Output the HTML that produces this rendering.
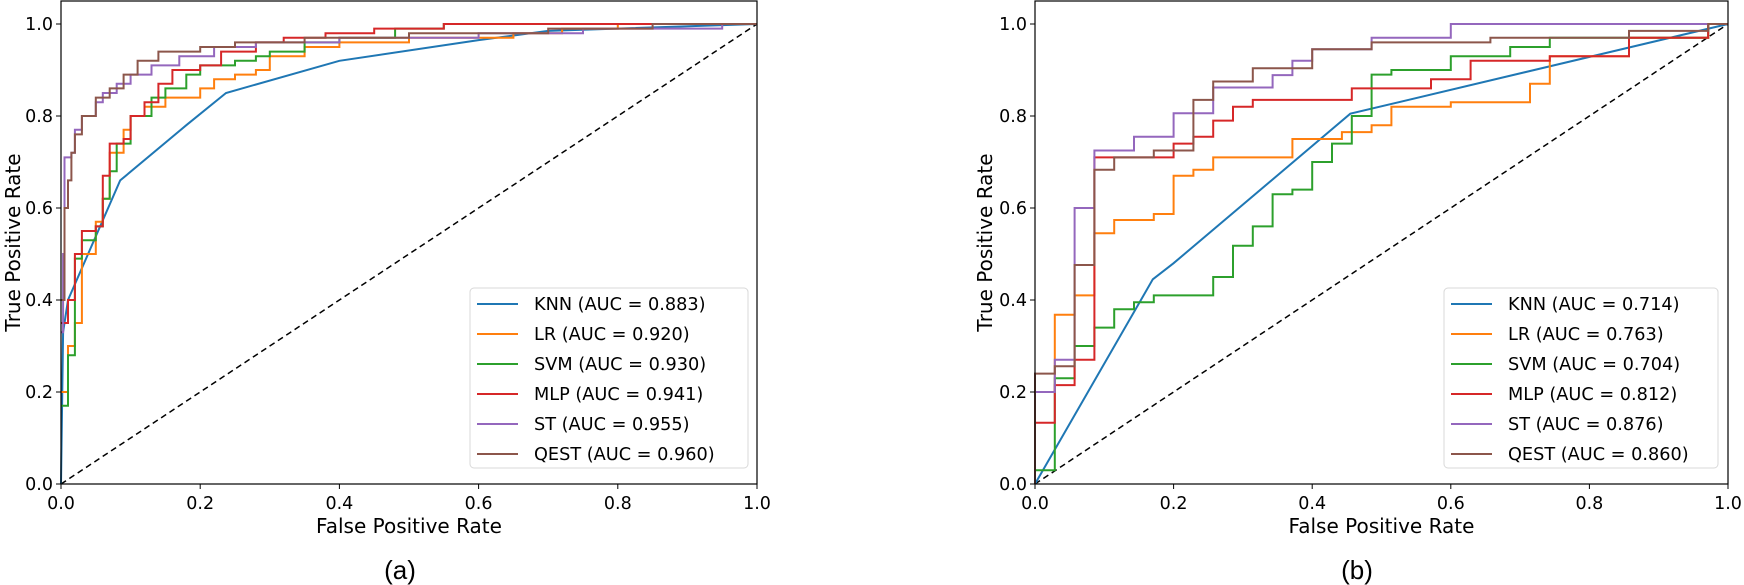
<!DOCTYPE html>
<html><head><meta charset="utf-8">
<style>
html,body{margin:0;padding:0;background:#fff;}
svg{display:block;font-family:"DejaVu Sans","Liberation Sans",sans-serif;}
</style></head>
<body>
<svg id="s" width="1744" height="585" xmlns="http://www.w3.org/2000/svg"></svg>
<script>
const S=document.getElementById('s');
const Y1=24,Y0=484,H=Y0-Y1;
const C=['#1f77b4','#ff7f0e','#2ca02c','#d62728','#9467bd','#8c564b'];
let out='';
function poly(pts,col,X,Y,step){
  let p=[];
  if(step){
    let prev=null;
    pts.forEach(q=>{ if(prev){p.push([q[0],prev[1]]);} p.push(q); prev=q;});
  } else p=pts;
  out+=`<polyline fill="none" stroke="${col}" stroke-width="2" stroke-linejoin="miter" points="${p.map(q=>X(q[0]).toFixed(1)+','+Y(q[1]).toFixed(1)).join(' ')}"/>`;
}
function frame(x0,x1,yl,lab,labx,legx,legw,aucs){
  const W=x1-x0, X=f=>x0+W*f, Y=t=>Y0-H*t;
  const top=Y(1.05);
  out+=`<rect x="${x0}" y="${top}" width="${W}" height="${Y0-top}" fill="none" stroke="#000" stroke-width="1.2"/>`;
  for(let i=0;i<=5;i++){
    const v=(i*0.2).toFixed(1);
    out+=`<line x1="${X(i*0.2)}" y1="${Y0}" x2="${X(i*0.2)}" y2="${Y0+5}" stroke="#000"/>`;
    out+=`<text x="${X(i*0.2)}" y="${Y0+25}" font-size="17.5" text-anchor="middle">${v}</text>`;
    out+=`<line x1="${x0-5}" y1="${Y(i*0.2)}" x2="${x0}" y2="${Y(i*0.2)}" stroke="#000"/>`;
    out+=`<text x="${x0-8}" y="${Y(i*0.2)+6}" font-size="17.5" text-anchor="end">${v}</text>`;
  }
  out+=`<text x="${x0+W/2}" y="${Y0+49}" font-size="20" text-anchor="middle">False Positive Rate</text>`;
  out+=`<text transform="translate(${yl},${(Y0+top)/2}) rotate(-90)" font-size="20" text-anchor="middle">True Positive Rate</text>`;
  out+=`<text x="${labx}" y="579" font-size="26" text-anchor="middle" font-family="Liberation Sans, sans-serif">${lab}</text>`;
  const lx=legx, ly=288;
  out+=`<rect x="${lx}" y="${ly}" width="${legw}" height="180" rx="4" fill="#fff" fill-opacity="0.85" stroke="#d8d8d8"/>`;
  const names=['KNN','LR','SVM','MLP','ST','QEST'];
  names.forEach((n,i)=>{
    const yy=ly+16+i*30;
    out+=`<line x1="${lx+7}" y1="${yy}" x2="${lx+48}" y2="${yy}" stroke="${C[i]}" stroke-width="2"/>`;
    out+=`<text x="${lx+64}" y="${yy+6}" font-size="17.7">${n} (AUC = ${aucs[i]})</text>`;
  });
}
// ---- Plot a
{
  const x0=61,x1=757,W=x1-x0,X=f=>x0+W*f,Y=t=>Y0-H*t;
  out+=`<line x1="${X(0)}" y1="${Y(0)}" x2="${X(1)}" y2="${Y(1)}" stroke="#000" stroke-width="1.5" stroke-dasharray="6,4"/>`;
  const D=[
   [[0,0],[0.003,0.33],[0.01,0.4],[0.085,0.66],[0.18,0.78],[0.237,0.85],[0.4,0.92],[0.6,0.965],[0.7,0.985],[1,1]],
   [[0,0.2],[0.01,0.3],[0.02,0.35],[0.03,0.5],[0.05,0.57],[0.06,0.62],[0.07,0.72],[0.09,0.77],[0.1,0.8],[0.12,0.82],[0.15,0.84],[0.2,0.86],[0.22,0.88],[0.25,0.89],[0.28,0.9],[0.3,0.93],[0.35,0.95],[0.4,0.96],[0.5,0.97],[0.65,0.98],[0.72,0.99],[0.8,1.0],[1,1]],
   [[0,0.17],[0.01,0.28],[0.02,0.49],[0.03,0.53],[0.05,0.56],[0.06,0.62],[0.07,0.68],[0.08,0.74],[0.1,0.8],[0.13,0.84],[0.15,0.86],[0.18,0.89],[0.2,0.91],[0.25,0.92],[0.28,0.93],[0.3,0.94],[0.35,0.96],[0.4,0.97],[0.48,0.99],[0.55,1.0],[1,1]],
   [[0,0.35],[0.01,0.4],[0.02,0.5],[0.03,0.55],[0.05,0.56],[0.06,0.67],[0.07,0.74],[0.09,0.75],[0.1,0.8],[0.12,0.83],[0.14,0.87],[0.16,0.9],[0.2,0.91],[0.23,0.94],[0.28,0.96],[0.32,0.97],[0.38,0.98],[0.45,0.99],[0.55,1.0],[1,1]],
   [[0,0.33],[0.003,0.5],[0.005,0.71],[0.015,0.72],[0.02,0.77],[0.03,0.8],[0.05,0.83],[0.06,0.85],[0.08,0.87],[0.1,0.89],[0.13,0.91],[0.17,0.93],[0.22,0.95],[0.28,0.96],[0.4,0.97],[0.6,0.98],[0.75,0.99],[0.95,1.0],[1,1]],
   [[0,0.4],[0.005,0.6],[0.01,0.66],[0.015,0.72],[0.02,0.76],[0.03,0.8],[0.05,0.84],[0.07,0.86],[0.09,0.89],[0.11,0.92],[0.14,0.94],[0.2,0.95],[0.25,0.96],[0.35,0.97],[0.5,0.98],[0.7,0.99],[0.85,1.0],[1,1]]
  ];
  D.forEach((d,i)=>poly(d,C[i],X,Y,i>0));
  frame(x0,x1,20,'(a)',400,470,278,['0.883','0.920','0.930','0.941','0.955','0.960']);
}
// ---- Plot b
{
  const x0=1035,x1=1728,W=x1-x0,X=f=>x0+W*f,Y=t=>Y0-H*t;
  out+=`<line x1="${X(0)}" y1="${Y(0)}" x2="${X(1)}" y2="${Y(1)}" stroke="#000" stroke-width="1.5" stroke-dasharray="6,4"/>`;
  const s=1/35;
  const st=a=>a.map(q=>[q[0]*s,q[1]]);
  const KNN=[[0,0],[0.17,0.445],[0.2,0.48],[0.455,0.805],[1,1]];
  const LR=st([[0,0],[0,0.2],[1,0.368],[2,0.41],[3,0.545],[4,0.574],[6,0.587],[7,0.67],[8,0.683],[9,0.71],[13,0.75],[15.5,0.765],[17,0.78],[18,0.82],[21,0.83],[25,0.87],[26,0.93],[30,0.97],[34,1.0],[35,1]]);
  const SVM=st([[0,0],[0,0.03],[1,0.23],[2,0.3],[3,0.34],[4,0.38],[5,0.395],[6,0.41],[9,0.45],[10,0.518],[11,0.56],[12,0.63],[13,0.64],[14,0.7],[15,0.74],[16,0.8],[17,0.89],[18,0.9],[21,0.93],[24,0.95],[26,0.97],[34,1.0],[35,1]]);
  const MLP=st([[0,0],[0,0.133],[1,0.215],[2,0.27],[3,0.71],[7,0.74],[8,0.755],[9,0.79],[10,0.82],[11,0.835],[16,0.86],[20,0.88],[22,0.92],[26,0.93],[30,0.97],[34,1.0],[35,1]]);
  const ST=st([[0,0],[0,0.2],[1,0.27],[2,0.6],[3,0.725],[5,0.755],[7,0.806],[9,0.862],[12,0.889],[13,0.92],[14,0.945],[17,0.97],[21,1.0],[35,1]]);
  const QE=st([[0,0],[0,0.24],[1,0.256],[2,0.476],[3,0.683],[4,0.71],[6,0.725],[8,0.835],[9,0.875],[11,0.904],[14,0.945],[17,0.96],[23,0.97],[30,0.985],[34,1.0],[35,1]]);
  poly(KNN,C[0],X,Y,false);
  [LR,SVM,MLP,ST,QE].forEach((d,i)=>poly(d,C[i+1],X,Y,true));
  frame(x0,x1,992,'(b)',1357,1444,274,['0.714','0.763','0.704','0.812','0.876','0.860']);
}
S.innerHTML=out;
</script>
</body></html>
